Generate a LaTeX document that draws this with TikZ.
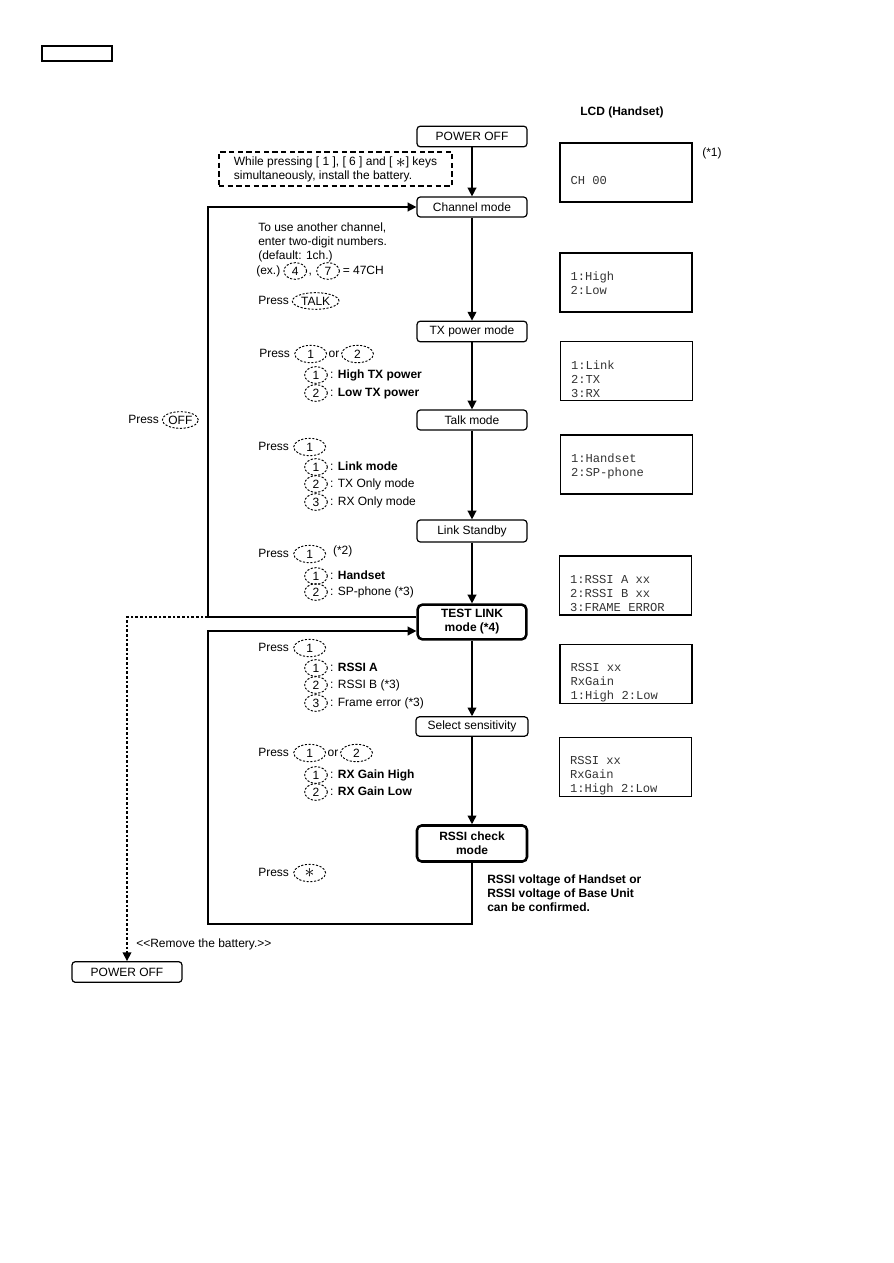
\documentclass[tikz,border=0pt]{standalone}
\usepackage{fontspec}
\setmainfont{Liberation Sans}
\setmonofont{Liberation Mono}
\usetikzlibrary{arrows.meta,positioning,shapes.geometric,calc}
\newcommand\keystar{\raisebox{-1.6pt}{\scalebox{1.6}{$\ast$}}}
\tikzset{
modebox/.style={
  draw=black,
  line width=0.9pt,
  rounded corners=2.5pt,
  align=center,
  font=\fontsize{9}{10.5}\selectfont,
  minimum width=82.5pt,
  minimum height=15.5pt,
  inner sep=1pt
},
thickbox/.style={
  modebox,
  line width=1.9pt,
  rounded corners=3.5pt,
  minimum width=81.5pt,
  minimum height=26pt,
  font=\fontsize{9}{10.5}\selectfont\bfseries
},
notebox/.style={
  draw=black,
  line width=1.1pt,
  dash pattern=on 4pt off 2.5pt,
  align=left,
  inner sep=0pt,
  minimum width=175pt,
  minimum height=25.5pt,
  font=\fontsize{9}{10.5}\selectfont
},
lcdbox/.style={
  draw=black,
  line width=1.1pt,
  minimum width=99pt,
  minimum height=44.25pt,
  inner sep=0pt
},
lcdtext/.style={
  anchor=north west,
  align=left,
  inner sep=0pt,
  text=black!80,
  font=\ttfamily\fontsize{9.1}{10.5}\selectfont
},
txt/.style={
  anchor=west,
  inner sep=0pt,
  text height=6.6pt,
  text depth=1.9pt,
  font=\fontsize{9}{10.5}\selectfont
},
txtblock/.style={
  anchor=north west,
  align=left,
  inner sep=0pt,
  font=\fontsize{9}{10.5}\selectfont
},
keyo/.style={
  ellipse,
  draw=black,
  line width=0.7pt,
  dash pattern=on 1.6pt off 1.2pt,
  inner sep=0pt,
  minimum width=17pt,
  minimum height=12.5pt,
  font=\fontsize{9}{10.5}\selectfont
},
keyw/.style={keyo, minimum width=24pt, minimum height=13pt},
flowarrow/.style={
  -{Triangle[length=6.5pt,width=6.5pt]},
  line width=1.1pt
},
loopline/.style={line width=1.1pt},
dotarrow/.style={flowarrow, dash pattern=on 2pt off 1.5pt}
}

\begin{document}
\begin{tikzpicture}[x=0.75pt,y=-0.75pt]
\useasboundingbox (0,0) rectangle (893,1263);

\node[draw, line width=0.9pt, minimum width=52.5pt, minimum height=11.25pt, inner sep=0pt] (hdr) at (77,53.5) {};

% main flow
\node[modebox] (pwrtop) at (472,136.5) {POWER OFF};
\node[modebox, minimum height=15pt] (chan) at (472,207) {Channel mode};
\node[modebox] (txpow) at (472,331.5) {TX power mode};
\node[modebox, minimum height=15pt] (talk) at (472,420) {Talk mode};
\node[modebox, minimum height=16.5pt] (lnkstb) at (472,531) {Link Standby};
\node[thickbox] (testlnk) at (472,622) {TEST LINK\\mode (*4)};
\node[modebox, minimum width=84pt, minimum height=14.5pt] (selsens) at (472,726.5) {Select sensitivity};
\node[thickbox, minimum width=82.5pt, minimum height=27pt] (rssichk) at (472,843.5) {RSSI check\\mode};
\node[modebox] (pwrbot) at (127,972) {POWER OFF};

\node[notebox] (note) at (335.5,169) {While pressing [ 1 ], [ 6 ] and [ \keystar] keys\\simultaneously, install the battery.};

\draw[flowarrow] (pwrtop) -- (chan);
\draw[flowarrow] (chan) -- (txpow);
\draw[flowarrow] (txpow) -- (talk);
\draw[flowarrow] (talk) -- (lnkstb);
\draw[flowarrow] (lnkstb) -- (testlnk);
\draw[flowarrow] (testlnk) -- (selsens);
\draw[flowarrow] (selsens) -- (rssichk);

% loops back
\coordinate (offcorner) at (208,617);
\coordinate (backcorner) at (208,924);
\draw[loopline] (testlnk.west |- offcorner) -- (offcorner);
\draw[flowarrow] (offcorner) |- (chan.west);
\draw[dotarrow] (offcorner) -| (pwrbot.north);
\draw[flowarrow] (rssichk.south) |- (backcorner) |- ($(testlnk.west)+(0,9)$);

% channel mode hints
\node[txtblock] (chhint) at (258,222.5) {To use another channel,\\enter two-digit numbers.\\(default: 1ch.)};
\node[txt] (ex) at (256,271) {(ex.)};
\node[keyo, right=2.2pt of ex] (exfour) {4};
\node[txt, right=1pt of exfour] (excomma) {,};
\node[keyo, right=3pt of excomma] (exseven) {7};
\node[txt, right=2pt of exseven] (exres) {= 47CH};
\node[txt] (prtalk) at (258,301) {Press};
\node[keyo, minimum width=35pt, right=2pt of prtalk] (talkkey) {TALK};

% key presses
\node[txt] (prpow) at (259,354) {Press};
\node[keyw, right=3pt of prpow] (powa) {1};
\node[txt, right=1pt of powa] (powor) {or};
\node[keyw, right=1pt of powor] (powb) {2};

\node[txt] (prtlk) at (258,447) {Press};
\node[keyw, right=3pt of prtlk] (tlka) {1};

\node[txt] (prlnk) at (258,554) {Press};
\node[keyw, right=3pt of prlnk] (lnka) {1};
\node[txt, right=5pt of lnka, yshift=2pt] (lnknote) {(*2)};

\node[txt] (prtst) at (258,648) {Press};
\node[keyw, right=3pt of prtst] (tsta) {1};

\node[txt] (prsns) at (258,753) {Press};
\node[keyw, right=3pt of prsns] (snsa) {1};
\node[txt, right=1pt of snsa] (snsor) {or};
\node[keyw, right=1pt of snsor] (snsb) {2};

\node[txt] (prstar) at (258,873) {Press};
\node[keyw, right=3pt of prstar] (stark) {\keystar};

\node[txt] (proff) at (128,420) {Press};
\node[keyo, minimum width=27pt, right=2pt of proff] (offkey) {OFF};

\foreach \k/\lbl/\yy in {1/{\textbf{High TX power}}/375, 2/{\textbf{Low TX power}}/393,
  1/{\textbf{Link mode}}/467, 2/{TX Only mode}/484, 3/{RX Only mode}/502,
  1/{\textbf{Handset}}/576, 2/{SP-phone (*3)}/592,
  1/{\textbf{RSSI A}}/668, 2/{RSSI B (*3)}/685, 3/{Frame error (*3)}/703,
  1/{\textbf{RX Gain High}}/775, 2/{\textbf{RX Gain Low}}/792} {
  \node[keyo] (key\yy) at (316,\yy) {\k};
  \node[txt, right=1.5pt of key\yy] (opt\yy) {: \lbl};
}

\node[txtblock, font=\fontsize{9}{10.5}\selectfont\bfseries] (rssinote) at (487,875) {RSSI voltage of Handset or\\RSSI voltage of Base Unit\\can be confirmed.};
\node[txt] (rmbat) at (136,944) {<\kern0pt<Remove the battery.>\kern0pt>};

% LCD column
\node[font=\fontsize{9}{10.5}\selectfont\bfseries, inner sep=0pt] (lcdtitle) at (622,112) {LCD (Handset)};
\node[txt] (lcdnote) at (702,153) {(*1)};
\foreach \n/\cx/\cy/\dy/\lines in {1/626/172.5/34/{CH 00},
  2/626/282.5/19.5/{1:High\\2:Low},
  3/626.5/371/19.5/{1:Link\\2:TX\\3:RX},
  4/626.5/464.5/19.5/{1:Handset\\2:SP-phone},
  5/625.5/585.5/19.5/{1:RSSI A xx\\2:RSSI B xx\\3:FRAME ERROR},
  6/626/674/19.5/{RSSI xx\\RxGain\\1:High 2:Low},
  7/625.5/767/19.5/{RSSI xx\\RxGain\\1:High 2:Low}} {
  \node[lcdbox] (lcd\n) at (\cx,\cy) {};
  \node[lcdtext] (lcdtxt\n) at ($(lcd\n.north west)+(11,\dy)$) {\lines};
}

\end{tikzpicture}
\end{document}
